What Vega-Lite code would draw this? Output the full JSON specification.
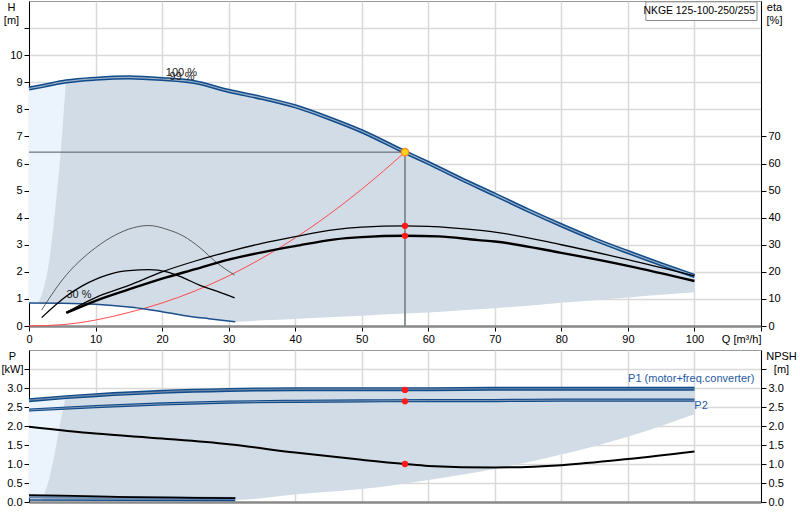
{
  "$schema": "https://vega.github.io/schema/vega-lite/v6.json",
  "background": "white",
  "padding": {"left": 0, "top": 0, "right": 0, "bottom": 0},
  "config": {
    "font": "Liberation Sans",
    "view": {"stroke": "#9a9a9a", "strokeWidth": 1},
    "line": {"interpolate": "monotone"},
    "area": {"interpolate": "monotone"},
    "axis": {"labelFontSize": 11, "labelColor": "#000", "titleFontSize": 11, "titleFontWeight": "normal", "titleColor": "#000", "tickColor": "#000", "domainColor": "#000", "gridColor": "#d9d9d9", "gridWidth": 1.5, "tickSize": 5, "labelPadding": 2}
  },
  "datasets": {
    "light_top": [
      {"q": 0, "h": 8.77, "h2": 0.85}, {"q": 2, "h": 8.86, "h2": 0.85}, {"q": 4, "h": 8.96, "h2": 0.84}, {"q": 5.6, "h": 9.03, "h2": 0.84}
    ],
    "region_top": [
      {"q": 1.4, "h": 0.86, "h2": 0.85}, {"q": 2.1, "h": 1.3, "h2": 0.85}, {"q": 3.1, "h": 2.5, "h2": 0.85},
      {"q": 3.7, "h": 3.75, "h2": 0.85}, {"q": 4.2, "h": 4.94, "h2": 0.84}, {"q": 4.7, "h": 6.2, "h2": 0.84},
      {"q": 5.1, "h": 7.5, "h2": 0.84}, {"q": 5.4, "h": 8.5, "h2": 0.84}, {"q": 5.6, "h": 9.03, "h2": 0.84},
      {"q": 10, "h": 9.13, "h2": 0.8}, {"q": 15, "h": 9.18, "h2": 0.7}, {"q": 17.7, "h": 9.16, "h2": 0.62},
      {"q": 20, "h": 9.12, "h2": 0.53}, {"q": 23.2, "h": 9.04, "h2": 0.39}, {"q": 25, "h": 9.0, "h2": 0.33},
      {"q": 27, "h": 8.9, "h2": 0.27}, {"q": 30, "h": 8.68, "h2": 0.17}, {"q": 31, "h": 8.63, "h2": 0.16},
      {"q": 35, "h": 8.42, "h2": 0.21}, {"q": 40, "h": 8.11, "h2": 0.26}, {"q": 45, "h": 7.68, "h2": 0.32},
      {"q": 50, "h": 7.19, "h2": 0.38}, {"q": 56.5, "h": 6.42, "h2": 0.46}, {"q": 60, "h": 6.02, "h2": 0.5},
      {"q": 65, "h": 5.42, "h2": 0.58}, {"q": 70, "h": 4.85, "h2": 0.66}, {"q": 75, "h": 4.27, "h2": 0.75},
      {"q": 80, "h": 3.72, "h2": 0.86}, {"q": 85, "h": 3.2, "h2": 0.95}, {"q": 90, "h": 2.73, "h2": 1.05},
      {"q": 95, "h": 2.28, "h2": 1.15}, {"q": 100, "h": 1.85, "h2": 1.25}
    ],
    "h_curves": [
      {"curve": "max", "q": 0, "h": 8.77}, {"curve": "max", "q": 2, "h": 8.86}, {"curve": "max", "q": 5.6, "h": 9.03},
      {"curve": "max", "q": 10, "h": 9.13}, {"curve": "max", "q": 15, "h": 9.18}, {"curve": "max", "q": 20, "h": 9.12},
      {"curve": "max", "q": 25, "h": 9.0}, {"curve": "max", "q": 30, "h": 8.68}, {"curve": "max", "q": 35, "h": 8.42},
      {"curve": "max", "q": 40, "h": 8.11}, {"curve": "max", "q": 45, "h": 7.68}, {"curve": "max", "q": 50, "h": 7.19},
      {"curve": "max", "q": 56.5, "h": 6.42}, {"curve": "max", "q": 60, "h": 6.02}, {"curve": "max", "q": 65, "h": 5.42},
      {"curve": "max", "q": 70, "h": 4.85}, {"curve": "max", "q": 75, "h": 4.27}, {"curve": "max", "q": 80, "h": 3.72},
      {"curve": "max", "q": 85, "h": 3.2}, {"curve": "max", "q": 90, "h": 2.73}, {"curve": "max", "q": 95, "h": 2.28},
      {"curve": "max", "q": 100, "h": 1.85},
      {"curve": "min", "q": 0, "h": 0.85}, {"curve": "min", "q": 5, "h": 0.84}, {"curve": "min", "q": 10, "h": 0.8},
      {"curve": "min", "q": 15, "h": 0.7}, {"curve": "min", "q": 17.7, "h": 0.62}, {"curve": "min", "q": 20, "h": 0.53},
      {"curve": "min", "q": 23.2, "h": 0.39}, {"curve": "min", "q": 27, "h": 0.27}, {"curve": "min", "q": 31, "h": 0.16},
      {"curve": "system", "q": 0, "h": 0}, {"curve": "system", "q": 5, "h": 0.05}, {"curve": "system", "q": 10, "h": 0.22},
      {"curve": "system", "q": 15, "h": 0.5}, {"curve": "system", "q": 20, "h": 0.85}, {"curve": "system", "q": 25, "h": 1.3},
      {"curve": "system", "q": 30, "h": 1.85}, {"curve": "system", "q": 35, "h": 2.5}, {"curve": "system", "q": 40, "h": 3.25},
      {"curve": "system", "q": 45, "h": 4.1}, {"curve": "system", "q": 50, "h": 5.05}, {"curve": "system", "q": 56.5, "h": 6.42}
    ],
    "eta_curves": [
      {"curve": "a", "q": 5.6, "eta": 5}, {"curve": "a", "q": 10, "eta": 10.5}, {"curve": "a", "q": 15, "eta": 15},
      {"curve": "a", "q": 20, "eta": 20}, {"curve": "a", "q": 25, "eta": 24}, {"curve": "a", "q": 30, "eta": 27.5},
      {"curve": "a", "q": 35, "eta": 30.5}, {"curve": "a", "q": 40, "eta": 33}, {"curve": "a", "q": 46, "eta": 35.6},
      {"curve": "a", "q": 50, "eta": 36.5}, {"curve": "a", "q": 56.5, "eta": 37}, {"curve": "a", "q": 60, "eta": 36.8},
      {"curve": "a", "q": 67.5, "eta": 35.4}, {"curve": "a", "q": 70, "eta": 34.7}, {"curve": "a", "q": 80, "eta": 30},
      {"curve": "a", "q": 90, "eta": 24.5}, {"curve": "a", "q": 100, "eta": 18.5},
      {"curve": "b", "q": 5.6, "eta": 4.8}, {"curve": "b", "q": 10, "eta": 9.3}, {"curve": "b", "q": 15, "eta": 13.5},
      {"curve": "b", "q": 20, "eta": 17.5}, {"curve": "b", "q": 25, "eta": 21}, {"curve": "b", "q": 30, "eta": 24.5},
      {"curve": "b", "q": 35, "eta": 27.2}, {"curve": "b", "q": 40, "eta": 29.5}, {"curve": "b", "q": 46, "eta": 32},
      {"curve": "b", "q": 50, "eta": 32.8}, {"curve": "b", "q": 56.5, "eta": 33.3}, {"curve": "b", "q": 61.5, "eta": 33.1},
      {"curve": "b", "q": 67.5, "eta": 31.7}, {"curve": "b", "q": 70, "eta": 31.2}, {"curve": "b", "q": 80, "eta": 27},
      {"curve": "b", "q": 90, "eta": 22.2}, {"curve": "b", "q": 100, "eta": 16.6},
      {"curve": "c", "q": 1.9, "eta": 5.9}, {"curve": "c", "q": 5, "eta": 17}, {"curve": "c", "q": 10, "eta": 28.9},
      {"curve": "c", "q": 12.9, "eta": 33.5}, {"curve": "c", "q": 15.7, "eta": 36.3}, {"curve": "c", "q": 18, "eta": 37.1},
      {"curve": "c", "q": 20.7, "eta": 35.7}, {"curve": "c", "q": 23.2, "eta": 33.2}, {"curve": "c", "q": 25.7, "eta": 28.9},
      {"curve": "c", "q": 28.2, "eta": 23.4}, {"curve": "c", "q": 30.9, "eta": 18.8},
      {"curve": "d", "q": 1.9, "eta": 3.1}, {"curve": "d", "q": 5.6, "eta": 11}, {"curve": "d", "q": 8, "eta": 14.8},
      {"curve": "d", "q": 10, "eta": 17.2}, {"curve": "d", "q": 13, "eta": 19.7}, {"curve": "d", "q": 16.6, "eta": 20.7},
      {"curve": "d", "q": 18, "eta": 20.8}, {"curve": "d", "q": 20.7, "eta": 20}, {"curve": "d", "q": 23.2, "eta": 17.8},
      {"curve": "d", "q": 25.7, "eta": 15}, {"curve": "d", "q": 28.2, "eta": 12.9}, {"curve": "d", "q": 30.9, "eta": 10.4}
    ],
    "eta_points": [{"q": 56.5, "eta": 37}, {"q": 56.5, "eta": 33.3}],
    "op_h": [{"q": 0, "q2": 56.5, "h": 6.42}],
    "op_v": [{"q": 56.5, "h": 6.42, "h2": 0}],
    "op_point": [{"q": 56.5, "h": 6.42}],
    "top_labels": [
      {"q": 22.9, "h": 9.34, "text": "100 %"},
      {"q": 23.0, "h": 9.19, "text": "99 %"},
      {"q": 7.5, "h": 1.14, "text": "30 %"}
    ],
    "name_box": [{"q": 92.7, "q2": 109.4, "h": 11.97, "h2": 11.28}],
    "name_text": [{"q": 109.1, "h": 11.62, "text": "NKGE 125-100-250/255"}],
    "light_bot": [
      {"q": 0, "p": 2.68, "p2": 0.18}, {"q": 5.6, "p": 2.76, "p2": 0.17}
    ],
    "region_bot": [
      {"q": 1.9, "p": 0.05, "p2": 0.04}, {"q": 2.5, "p": 0.3, "p2": 0.04}, {"q": 3.3, "p": 0.8, "p2": 0.04},
      {"q": 4.0, "p": 1.4, "p2": 0.04}, {"q": 4.6, "p": 2.0, "p2": 0.04}, {"q": 5.1, "p": 2.4, "p2": 0.04},
      {"q": 5.6, "p": 2.76, "p2": 0.04}, {"q": 10, "p": 2.81, "p2": 0.04}, {"q": 20, "p": 2.9, "p2": 0.04},
      {"q": 31, "p": 2.95, "p2": 0.05}, {"q": 40, "p": 2.97, "p2": 0.2}, {"q": 50, "p": 2.97, "p2": 0.34},
      {"q": 60, "p": 2.97, "p2": 0.58}, {"q": 70, "p": 2.98, "p2": 0.87}, {"q": 80, "p": 2.98, "p2": 1.25},
      {"q": 90, "p": 2.98, "p2": 1.72}, {"q": 100, "p": 2.98, "p2": 2.31}
    ],
    "p_curves": [
      {"curve": "P1", "q": 0, "p": 2.68}, {"curve": "P1", "q": 5.6, "p": 2.76}, {"curve": "P1", "q": 10, "p": 2.81},
      {"curve": "P1", "q": 20, "p": 2.9}, {"curve": "P1", "q": 30, "p": 2.95}, {"curve": "P1", "q": 40, "p": 2.97},
      {"curve": "P1", "q": 50, "p": 2.97}, {"curve": "P1", "q": 60, "p": 2.97}, {"curve": "P1", "q": 70, "p": 2.98},
      {"curve": "P1", "q": 80, "p": 2.98}, {"curve": "P1", "q": 90, "p": 2.98}, {"curve": "P1", "q": 100, "p": 2.98},
      {"curve": "P2", "q": 0, "p": 2.42}, {"curve": "P2", "q": 10, "p": 2.51}, {"curve": "P2", "q": 20, "p": 2.58},
      {"curve": "P2", "q": 30, "p": 2.63}, {"curve": "P2", "q": 40, "p": 2.65}, {"curve": "P2", "q": 50, "p": 2.66},
      {"curve": "P2", "q": 60, "p": 2.67}, {"curve": "P2", "q": 70, "p": 2.67}, {"curve": "P2", "q": 80, "p": 2.68},
      {"curve": "P2", "q": 90, "p": 2.68}, {"curve": "P2", "q": 100, "p": 2.68},
      {"curve": "P1min", "q": 0, "p": 0.13}, {"curve": "P1min", "q": 31, "p": 0.09},
      {"curve": "P2min", "q": 0, "p": 0.05}, {"curve": "P2min", "q": 31, "p": 0.04},
      {"curve": "low", "q": 0, "p": 0.18}, {"curve": "low", "q": 5, "p": 0.17}, {"curve": "low", "q": 15, "p": 0.13},
      {"curve": "low", "q": 25, "p": 0.11}, {"curve": "low", "q": 31, "p": 0.1}
    ],
    "p_points": [{"q": 56.5, "p": 2.95}, {"q": 56.5, "p": 2.65}],
    "p1_label": [{"q": 109.0, "p": 3.24, "text": "P1 (motor+freq.converter)"}],
    "p2_label": [{"q": 101.0, "p": 2.52, "text": "P2"}],
    "npsh": [
      {"q": 0, "npsh": 1.98}, {"q": 10, "npsh": 1.8}, {"q": 20, "npsh": 1.67}, {"q": 30, "npsh": 1.52},
      {"q": 40, "npsh": 1.3}, {"q": 50, "npsh": 1.11}, {"q": 56.5, "npsh": 1.0}, {"q": 60, "npsh": 0.95},
      {"q": 70, "npsh": 0.91}, {"q": 80, "npsh": 0.97}, {"q": 90, "npsh": 1.13}, {"q": 100, "npsh": 1.33}
    ],
    "npsh_point": [{"q": 56.5, "npsh": 1.0}]
  },
  "vconcat": [
    {
      "width": 732,
      "height": 325,
      "encoding": {
        "x": {
          "field": "q", "type": "quantitative",
          "scale": {"domain": [0, 110], "nice": false, "zero": false},
          "axis": {
            "title": null, "values": [0, 10, 20, 30, 40, 50, 60, 70, 80, 90, 100, 110],
            "labelExpr": "datum.value == 110 ? 'Q [m³/h]' : datum.label",
            "labelAlign": {"condition": {"test": "datum.value == 110", "value": "right"}, "value": "center"},
            "domainColor": "#8a8a8a", "domainWidth": 2.5, "tickColor": "#000"
          }
        }
      },
      "layer": [
        {
          "encoding": {
            "y": {
              "field": "h", "type": "quantitative",
              "scale": {"domain": [0, 12], "nice": false, "zero": false},
              "axis": {
                "values": [0, 1, 2, 3, 4, 5, 6, 7, 8, 9, 10, 11],
                "labelExpr": "datum.value > 10 ? '' : datum.label",
                "title": ["H", "[m]"], "titleAngle": 0, "titleX": -18, "titleY": 0,
                "titleBaseline": "top", "titleAlign": "center", "titleLineHeight": 13
              }
            }
          },
          "layer": [
            {"data": {"name": "light_top"}, "mark": {"type": "area", "color": "#ebf3fc"}, "encoding": {"y2": {"field": "h2"}}},
            {"data": {"name": "region_top"}, "mark": {"type": "area", "color": "#d1dce7"}, "encoding": {"y2": {"field": "h2"}}},
            {"data": {"name": "h_curves"}, "transform": [{"filter": "datum.curve == 'system'"}], "mark": {"type": "line", "color": "#ff4a4a", "strokeWidth": 1}},
            {"data": {"name": "h_curves"}, "transform": [{"filter": "datum.curve == 'min'"}], "mark": {"type": "line", "color": "#1d4f8c", "strokeWidth": 1.5}},
            {"data": {"name": "h_curves"}, "transform": [{"filter": "datum.curve == 'max'"}], "mark": {"type": "line", "color": "#104b8a", "strokeWidth": 4.2}},
            {"data": {"name": "h_curves"}, "transform": [{"filter": "datum.curve == 'max'"}], "mark": {"type": "line", "color": "#9cb1ca", "strokeWidth": 1.2}},
            {"data": {"name": "op_h"}, "mark": {"type": "rule", "color": "#4f5962", "strokeWidth": 1}, "encoding": {"x2": {"field": "q2"}}},
            {"data": {"name": "op_v"}, "mark": {"type": "rule", "color": "#7f8890", "strokeWidth": 1.8}, "encoding": {"y2": {"field": "h2"}}},
            {"data": {"name": "op_point"}, "mark": {"type": "point", "filled": true, "color": "#ffd21a", "stroke": "#ff8c1a", "strokeWidth": 1.2, "size": 55, "opacity": 1}},
            {"data": {"name": "top_labels"}, "mark": {"type": "text", "fontSize": 11, "color": "#222", "align": "center", "baseline": "middle"}, "encoding": {"text": {"field": "text"}}},
            {"data": {"name": "name_box"}, "mark": {"type": "rect", "fill": "white", "stroke": "#8a8a8a", "strokeWidth": 1}, "encoding": {"x2": {"field": "q2"}, "y2": {"field": "h2"}}},
            {"data": {"name": "name_text"}, "mark": {"type": "text", "fontSize": 10.4, "color": "#000", "align": "right", "baseline": "middle"}, "encoding": {"text": {"field": "text"}}}
          ]
        },
        {
          "encoding": {
            "y": {
              "field": "eta", "type": "quantitative",
              "scale": {"domain": [0, 120], "nice": false, "zero": false},
              "axis": {
                "orient": "right", "grid": false,
                "values": [0, 10, 20, 30, 40, 50, 60, 70],
                "title": ["eta", "[%]"], "titleAngle": 0, "titleX": 13, "titleY": 0,
                "titleBaseline": "top", "titleAlign": "center", "titleLineHeight": 13
              }
            }
          },
          "layer": [
            {"data": {"name": "eta_curves"}, "transform": [{"filter": "datum.curve == 'c'"}], "mark": {"type": "line", "color": "#3a3a3a", "strokeWidth": 0.8}},
            {"data": {"name": "eta_curves"}, "transform": [{"filter": "datum.curve == 'd'"}], "mark": {"type": "line", "color": "#000", "strokeWidth": 1.3}},
            {"data": {"name": "eta_curves"}, "transform": [{"filter": "datum.curve == 'a'"}], "mark": {"type": "line", "color": "#000", "strokeWidth": 1.3}},
            {"data": {"name": "eta_curves"}, "transform": [{"filter": "datum.curve == 'b'"}], "mark": {"type": "line", "color": "#000", "strokeWidth": 2.4}},
            {"data": {"name": "eta_points"}, "mark": {"type": "circle", "color": "#ff1a1a", "size": 40, "opacity": 1}}
          ]
        }
      ],
      "resolve": {"scale": {"y": "independent"}}
    },
    {
      "width": 732,
      "height": 152,
      "encoding": {
        "x": {
          "field": "q", "type": "quantitative",
          "scale": {"domain": [0, 110], "nice": false, "zero": false},
          "axis": {
            "title": null, "values": [0, 10, 20, 30, 40, 50, 60, 70, 80, 90, 100, 110],
            "labels": false, "ticks": false,
            "domainColor": "#8a8a8a", "domainWidth": 2.5
          }
        }
      },
      "layer": [
        {
          "encoding": {
            "y": {
              "field": "p", "type": "quantitative",
              "scale": {"domain": [0, 4], "nice": false, "zero": false},
              "axis": {
                "values": [0, 0.5, 1, 1.5, 2, 2.5, 3, 3.5],
                "labelExpr": "datum.value > 3.1 ? '' : format(datum.value, '.1f')",
                "title": ["P", "[kW]"], "titleAngle": 0, "titleX": -17, "titleY": 0,
                "titleBaseline": "top", "titleAlign": "center", "titleLineHeight": 13
              }
            }
          },
          "layer": [
            {"data": {"name": "light_bot"}, "mark": {"type": "area", "color": "#ebf3fc"}, "encoding": {"y2": {"field": "p2"}}},
            {"data": {"name": "region_bot"}, "mark": {"type": "area", "color": "#d1dce7"}, "encoding": {"y2": {"field": "p2"}}},
            {"data": {"name": "p_curves"}, "transform": [{"filter": "datum.curve == 'P1min'"}], "mark": {"type": "line", "color": "#6f89ab", "strokeWidth": 3}},
            {"data": {"name": "p_curves"}, "transform": [{"filter": "datum.curve == 'P2min'"}], "mark": {"type": "line", "color": "#104b8a", "strokeWidth": 1.5}},
            {"data": {"name": "p_curves"}, "transform": [{"filter": "datum.curve == 'low'"}], "mark": {"type": "line", "color": "#000", "strokeWidth": 1.8}},
            {"data": {"name": "p_curves"}, "transform": [{"filter": "datum.curve == 'P1'"}], "mark": {"type": "line", "color": "#104b8a", "strokeWidth": 4}},
            {"data": {"name": "p_curves"}, "transform": [{"filter": "datum.curve == 'P1'"}], "mark": {"type": "line", "color": "#6f89ab", "strokeWidth": 1.2}},
            {"data": {"name": "p_curves"}, "transform": [{"filter": "datum.curve == 'P2'"}], "mark": {"type": "line", "color": "#104b8a", "strokeWidth": 3.2}},
            {"data": {"name": "p_curves"}, "transform": [{"filter": "datum.curve == 'P2'"}], "mark": {"type": "line", "color": "#7d95b4", "strokeWidth": 1}},
            {"data": {"name": "p_points"}, "mark": {"type": "circle", "color": "#ff1a1a", "size": 40, "opacity": 1}},
            {"data": {"name": "p1_label"}, "mark": {"type": "text", "fontSize": 11, "color": "#1f5aa0", "align": "right", "baseline": "middle"}, "encoding": {"text": {"field": "text"}}},
            {"data": {"name": "p2_label"}, "mark": {"type": "text", "fontSize": 11, "color": "#1f5aa0", "align": "center", "baseline": "middle"}, "encoding": {"text": {"field": "text"}}}
          ]
        },
        {
          "encoding": {
            "y": {
              "field": "npsh", "type": "quantitative",
              "scale": {"domain": [0, 4], "nice": false, "zero": false},
              "axis": {
                "orient": "right", "grid": false,
                "values": [0, 0.5, 1, 1.5, 2, 2.5, 3, 3.5],
                "labelExpr": "datum.value > 3.1 ? '' : format(datum.value, '.1f')",
                "title": ["NPSH", "[m]"], "titleAngle": 0, "titleX": 20, "titleY": 0,
                "titleBaseline": "top", "titleAlign": "center", "titleLineHeight": 13
              }
            }
          },
          "layer": [
            {"data": {"name": "npsh"}, "mark": {"type": "line", "color": "#000", "strokeWidth": 2}},
            {"data": {"name": "npsh_point"}, "mark": {"type": "circle", "color": "#ff1a1a", "size": 40, "opacity": 1}}
          ]
        }
      ],
      "resolve": {"scale": {"y": "independent"}}
    }
  ],
  "spacing": 4
}
